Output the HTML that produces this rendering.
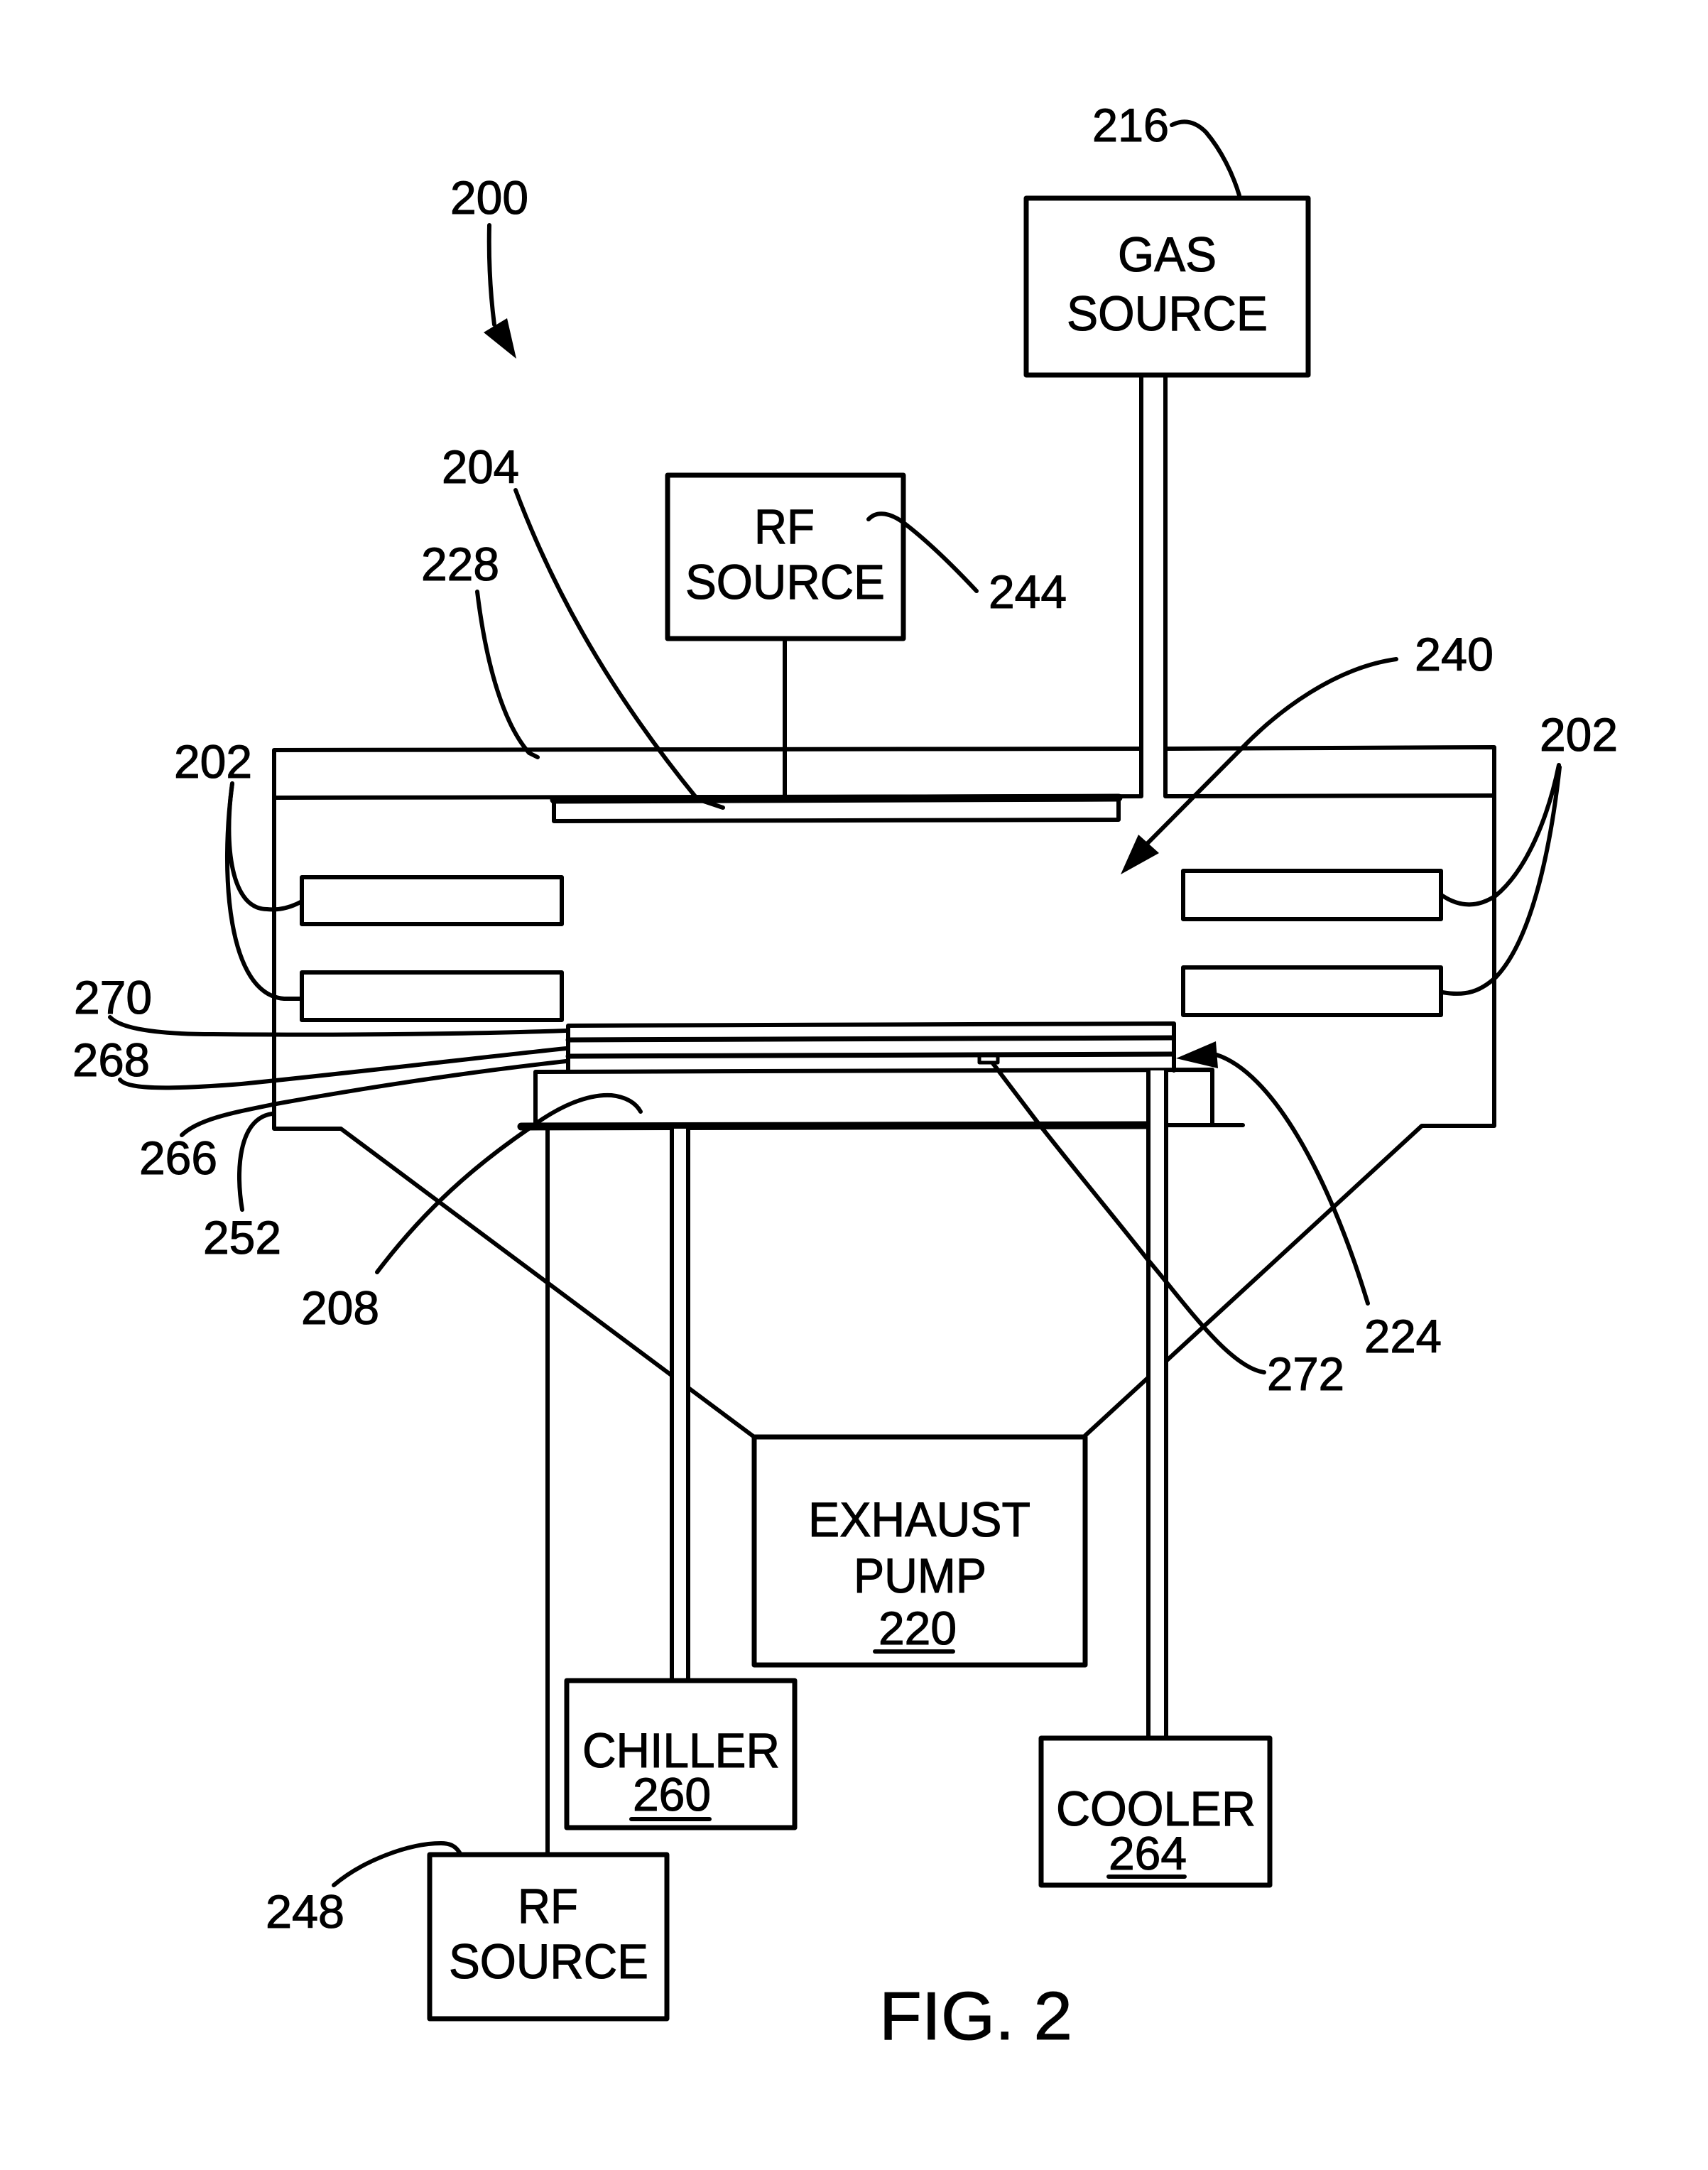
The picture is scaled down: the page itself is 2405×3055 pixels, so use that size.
<!DOCTYPE html>
<html><head><meta charset="utf-8"><style>
html,body{margin:0;padding:0;background:#fff}
svg{display:block}
text{font-family:"Liberation Sans",Arial,sans-serif;fill:#000;stroke:#000;stroke-width:1.1px;font-size:66px}
.b{font-size:69px}
</style></head><body>
<svg width="2405" height="3055" viewBox="0 0 2405 3055" xmlns="http://www.w3.org/2000/svg">
<rect width="2405" height="3055" fill="#fff"/>
<g fill="none" stroke="#000" stroke-width="6" stroke-linecap="round" stroke-linejoin="round">
<!-- chamber -->
<path d="M1607 1054L386 1056V1589H480L1062 2023"/>
<path d="M1641 1054L2104 1052V1585H2002L1528 2021"/>
<path d="M386 1123L1607 1121V529"/>
<path d="M1641 529V1121L2104 1120"/>
<!-- plate -->
<path d="M780 1126L1575 1123" stroke-width="11"/>
<path d="M780 1126V1156L1575 1154V1123"/>
<path d="M1105 900V1121"/>
<!-- coils -->
<rect x="425" y="1235" width="366" height="66"/>
<rect x="425" y="1369" width="366" height="67"/>
<rect x="1666" y="1226" width="363" height="68"/>
<rect x="1666" y="1362" width="363" height="67"/>
<!-- wafer stack -->
<path d="M800 1508V1444L1653 1441V1507"/>
<path d="M800 1464L1650 1461" stroke-width="7"/>
<path d="M800 1487L1650 1484" stroke-width="7"/>
<path d="M754 1585V1509L1707 1506V1582"/>
<path d="M734 1586L1617 1584" stroke-width="11"/>
<path d="M1617 1584H1642" stroke-width="8"/>
<path d="M1642 1584H1750"/>
<rect x="1379" y="1486" width="26" height="10" stroke-width="5"/>
<!-- pipes -->
<path d="M771 1586V2611"/>
<rect x="946" y="1589" width="23" height="777" fill="#fff" stroke="none"/>
<path d="M946 1589V2366M969 1589V2366"/>
<rect x="1617" y="1507" width="25" height="940" fill="#fff" stroke="none"/>
<path d="M1617 1507V2447M1642 1507V2447"/>
<!-- boxes -->
<rect x="1445" y="279" width="397" height="249" stroke-width="7"/>
<rect x="940" y="669" width="332" height="230" stroke-width="7"/>
<rect x="1062" y="2023" width="466" height="321" stroke-width="7"/>
<rect x="798" y="2366" width="321" height="207" stroke-width="7"/>
<rect x="1466" y="2447" width="322" height="207" stroke-width="7"/>
<rect x="605" y="2611" width="334" height="231" stroke-width="7"/>
<!-- leaders -->
<g stroke-width="6">
<path d="M689 317C688 360 690 410 696 457"/>
<path d="M1650 176C1666 168 1682 170 1698 186C1720 212 1736 245 1745 275"/>
<path d="M726 690C790 860 880 1000 982 1125L1018 1137"/>
<path d="M672 833C685 940 710 1020 745 1060L757 1066"/>
<path d="M1223 731C1235 718 1255 722 1275 738C1310 765 1345 800 1375 832"/>
<path d="M1966 928C1880 940 1800 1000 1748 1054L1615 1188"/>
<path d="M327 1103C315 1190 325 1280 376 1280C395 1282 410 1277 423 1270"/>
<path d="M327 1103C310 1230 320 1400 400 1406H423"/>
<path d="M2031 1261C2060 1280 2085 1275 2106 1261C2150 1225 2180 1150 2195 1077"/>
<path d="M2031 1397C2065 1403 2085 1395 2106 1376C2160 1320 2185 1180 2196 1080"/>
<path d="M155 1432C170 1448 220 1456 300 1456C500 1458 680 1455 797 1451"/>
<path d="M169 1520C180 1535 250 1533 340 1526C500 1510 680 1488 797 1476"/>
<path d="M256 1598C280 1575 330 1566 389 1554C550 1525 680 1507 797 1494"/>
<path d="M341 1703C332 1650 335 1575 383 1568"/>
<path d="M531 1791C600 1700 670 1640 746 1588C790 1555 830 1540 861 1542C880 1544 895 1552 902 1565"/>
<path d="M1398 1497L1461 1580C1520 1655 1570 1715 1615 1772C1665 1830 1730 1925 1780 1932"/>
<path d="M1713 1485C1790 1510 1870 1650 1926 1835"/>
<path d="M470 2654C510 2620 575 2595 621 2595C635 2595 642 2600 647 2608"/>
</g>
<!-- underlines -->
<path d="M1232 2325H1342M889 2561H999M1561 2642H1668"/>
</g>
<!-- arrowheads -->
<g fill="#000" stroke="none">
<polygon points="727,505 681,468 714,448"/>
<polygon points="1578,1231 1603,1175 1632,1201"/>
<polygon points="1656,1490 1712,1466 1715,1504"/>
</g>
<!-- labels -->
<text x="634" y="301" textLength="110" lengthAdjust="spacingAndGlyphs">200</text>
<text x="1538" y="199" textLength="108" lengthAdjust="spacingAndGlyphs">216</text>
<text x="622" y="680" textLength="109" lengthAdjust="spacingAndGlyphs">204</text>
<text x="593" y="817" textLength="110" lengthAdjust="spacingAndGlyphs">228</text>
<text x="1392" y="856" textLength="110" lengthAdjust="spacingAndGlyphs">244</text>
<text x="1992" y="944" textLength="111" lengthAdjust="spacingAndGlyphs">240</text>
<text x="2168" y="1057" textLength="110" lengthAdjust="spacingAndGlyphs">202</text>
<text x="245" y="1095" textLength="110" lengthAdjust="spacingAndGlyphs">202</text>
<text x="104" y="1427" textLength="110" lengthAdjust="spacingAndGlyphs">270</text>
<text x="102" y="1515" textLength="109" lengthAdjust="spacingAndGlyphs">268</text>
<text x="196" y="1653" textLength="110" lengthAdjust="spacingAndGlyphs">266</text>
<text x="286" y="1765" textLength="110" lengthAdjust="spacingAndGlyphs">252</text>
<text x="424" y="1864" textLength="110" lengthAdjust="spacingAndGlyphs">208</text>
<text x="1921" y="1904" textLength="109" lengthAdjust="spacingAndGlyphs">224</text>
<text x="1784" y="1957" textLength="109" lengthAdjust="spacingAndGlyphs">272</text>
<text x="374" y="2714" textLength="111" lengthAdjust="spacingAndGlyphs">248</text>
<text class="b" x="1574" y="382" textLength="139" lengthAdjust="spacingAndGlyphs">GAS</text>
<text class="b" x="1502" y="465" textLength="283" lengthAdjust="spacingAndGlyphs">SOURCE</text>
<text class="b" x="1062" y="765" textLength="85" lengthAdjust="spacingAndGlyphs">RF</text>
<text class="b" x="965" y="843" textLength="281" lengthAdjust="spacingAndGlyphs">SOURCE</text>
<text class="b" x="1138" y="2163" textLength="313" lengthAdjust="spacingAndGlyphs">EXHAUST</text>
<text class="b" x="1202" y="2242" textLength="187" lengthAdjust="spacingAndGlyphs">PUMP</text>
<text x="1237" y="2315" textLength="110" lengthAdjust="spacingAndGlyphs">220</text>
<text class="b" x="820" y="2488" textLength="278" lengthAdjust="spacingAndGlyphs">CHILLER</text>
<text x="891" y="2549" textLength="110" lengthAdjust="spacingAndGlyphs">260</text>
<text class="b" x="1487" y="2570" textLength="281" lengthAdjust="spacingAndGlyphs">COOLER</text>
<text x="1561" y="2632" textLength="110" lengthAdjust="spacingAndGlyphs">264</text>
<text class="b" x="729" y="2707" textLength="85" lengthAdjust="spacingAndGlyphs">RF</text>
<text class="b" x="632" y="2785" textLength="281" lengthAdjust="spacingAndGlyphs">SOURCE</text>
<text x="1238" y="2871" textLength="272" lengthAdjust="spacingAndGlyphs" style="font-size:96px">FIG. 2</text>
</svg>
</body></html>
